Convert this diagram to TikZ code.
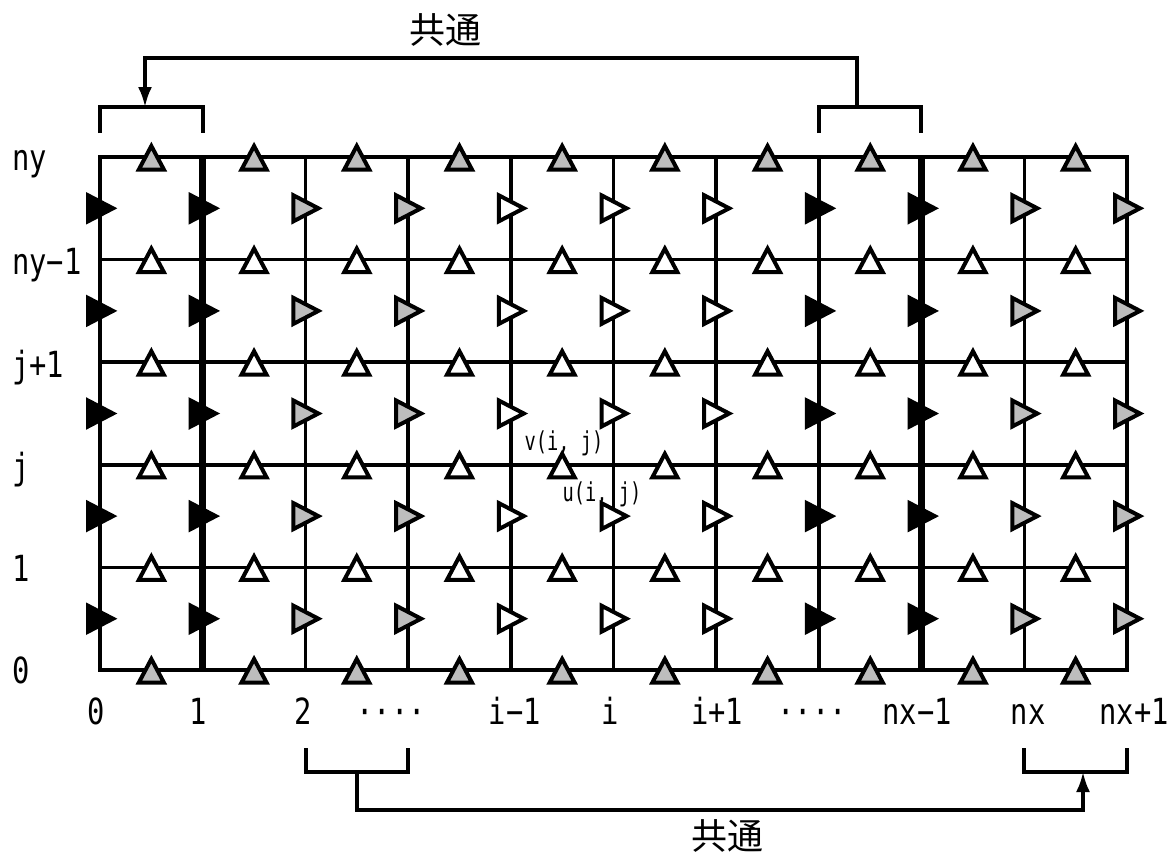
\documentclass[tikz,border=0pt]{standalone}
\usepackage{fontspec}
\setmainfont{DejaVu Sans Mono}
\newfontfamily\lblfont[FakeStretch=0.8]{DejaVu Sans Mono}
\newfontfamily\smallfont[FakeStretch=0.72]{DejaVu Sans Mono}
\newfontfamily\jpfont{Noto Sans CJK JP}
\usetikzlibrary{arrows.meta}
\definecolor{stip}{rgb}{0.74,0.74,0.74}
\begin{document}
\begin{tikzpicture}[x=1pt,y=-1pt,
  gridline/.style={line width=3.5pt},
  thickline/.style={line width=6.5pt},
  tri/.style={line width=4pt, line join=miter},
  lab/.style={font=\lblfont\fontsize{36}{40}\selectfont, inner sep=0pt},
  smalllab/.style={font=\smallfont\fontsize{26}{28}\selectfont, inner sep=0pt},
  jplab/.style={font=\jpfont\fontsize{36}{40}\selectfont, inner sep=0pt},
  conn/.style={line width=3.3pt},
  bracket/.style={line width=3.3pt},
  arr/.style={conn, -{Latex[length=20pt,width=14pt]}},
  ]
\useasboundingbox (0,0) rectangle (1174,855);
% grid
\foreach \k in {2,...,7,9} { \draw[gridline] ({100+102.7*\k},157) -- ({100+102.7*\k},670); }
\foreach \m in {1,...,4} { \draw[gridline] (100,{157+102.6*\m}) -- (1127,{157+102.6*\m}); }
\draw[gridline] (100,157) rectangle (1127,670);
\draw[thickline] ({100+102.7*1},157) -- ({100+102.7*1},670);
\draw[thickline] ({100+102.7*8},157) -- ({100+102.7*8},670);
% v-points (up triangles)
\foreach \m/\c in {0/stip,1/white,2/white,3/white,4/white,5/stip} {
  \foreach \k in {0,...,9} {
    \filldraw[tri, fill=\c] ({151.35+102.7*\k-12.5},{157+102.6*\m+12.5}) -- ++(12.5,-23.5) -- ++(12.5,23.5) -- cycle;
  }
}
% u-points (right triangles)
\foreach \k/\c in {0/black,1/black,2/stip,3/stip,4/white,5/white,6/white,7/black,8/black,9/stip,10/stip} {
  \foreach \m in {0,...,4} {
    \filldraw[tri, fill=\c] ({100+102.7*\k-12},{157+102.6*\m+51.3-13}) -- ++(25,13) -- ++(-25,13) -- cycle;
  }
}
% left labels
\node[lab, anchor=base west] (jny) at (12,170) {ny};
\node[lab, anchor=base west] (jny1) at (12,274) {ny−1};
\node[lab, anchor=base west] (jj1) at (12,377) {j+1};
\node[lab, anchor=base west] (jj) at (12,479) {j};
\node[lab, anchor=base west] (j1) at (12,581) {1};
\node[lab, anchor=base west] (j0) at (12,683) {0};
% bottom labels
\node[lab, anchor=base] (i0) at (96,724) {0};
\node[lab, anchor=base] (i1) at (198,724) {1};
\node[lab, anchor=base] (i2) at (303,724) {2};
\node[lab, anchor=base] (id1) at (391,724) {····};
\node[lab, anchor=base] (iim1) at (515,724) {i−1};
\node[lab, anchor=base] (ii) at (610,724) {i};
\node[lab, anchor=base] (iip1) at (717,724) {i+1};
\node[lab, anchor=base] (id2) at (812,724) {····};
\node[lab, anchor=base] (inxm1) at (917,724) {nx−1};
\node[lab, anchor=base] (inx) at (1028,724) {nx};
\node[lab, anchor=base] (inxp1) at (1134,724) {nx+1};
% point labels
\node[smalllab] (vlab) at (564,443) {v(i, j)};
\node[smalllab] (ulab) at (602,494) {u(i, j)};
% top brackets and connector
\draw[bracket] (100,133) -- (100,107) -- (203,107) -- (203,133);
\draw[bracket] (819,133) -- (819,107) -- (921,107) -- (921,133);
\coordinate (tsrc) at (857,107);
\coordinate (tdst) at (145,107);
\draw[arr] (tsrc) -- (857,58) -- (145,58) -- (tdst);
\node[jplab] (ktop) at (445,30) {共通};
% bottom brackets and connector
\draw[bracket] (306,748) -- (306,772) -- (408,772) -- (408,748);
\draw[bracket] (1024,748) -- (1024,772) -- (1127,772) -- (1127,748);
\coordinate (bsrc) at (357,772);
\coordinate (bdst) at (1083,772);
\draw[arr] (bsrc) -- (357,810) -- (1083,810) -- (bdst);
\node[jplab] (kbot) at (727,836) {共通};
\end{tikzpicture}
\end{document}
